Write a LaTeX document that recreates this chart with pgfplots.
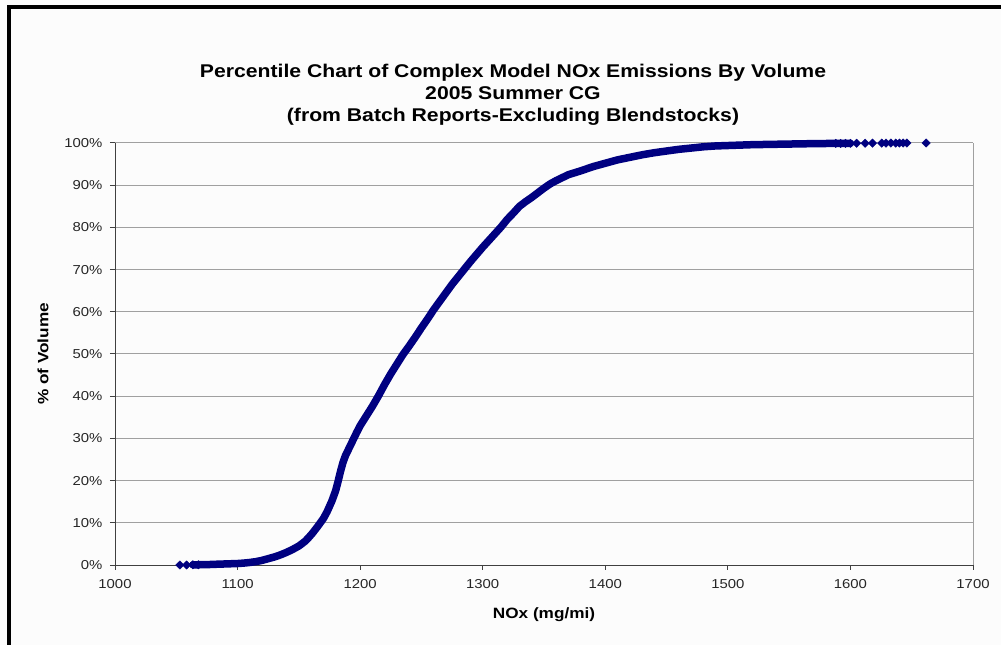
\documentclass[border=0pt]{standalone}
\usepackage{fontspec}
\setmainfont{Liberation Sans}[FakeStretch=1.15]
\usepackage{pgfplots}
\pgfplotsset{compat=1.18}
\definecolor{navy}{RGB}{0,0,128}
\definecolor{gridgray}{RGB}{160,160,160}
\definecolor{axisdark}{RGB}{64,64,64}
\definecolor{bg}{RGB}{252,252,252}
\begin{document}
\begin{tikzpicture}
\fill[bg] (0bp,0bp) rectangle (1001bp,645bp);
\path[use as bounding box] (0bp,0bp) rectangle (1001bp,645bp);
\fill[black] (7bp,0bp) rectangle (11bp,640bp);
\fill[black] (7bp,636bp) rectangle (1001bp,640bp);
\node[align=center, font=\fontsize{18.5}{22}\selectfont\bfseries] at (513bp,550bp)
 {Percentile Chart of Complex Model NOx Emissions By Volume\\2005 Summer CG\\(from Batch Reports-Excluding Blendstocks)};
\begin{axis}[
  at={(115bp,80bp)}, anchor=south west,
  scale only axis, width=858bp, height=422bp,
  xmin=1000, xmax=1700, ymin=0, ymax=100,
  axis x line=bottom, axis y line=left,
  axis line style={axisdark, line width=1bp, -},
  xtick={1000,1100,...,1700}, ytick={0,10,...,100},
  yticklabel={\pgfmathprintnumber{\tick}\%},
  ymajorgrids, major grid style={gridgray, line width=1bp},
  tick align=outside, major tick length=5bp,
  tick style={axisdark, line width=1bp},
  /pgf/number format/assume math mode=true,
  /pgf/number format/set thousands separator={},
  scaled x ticks=false,
  ticklabel style={font=\fontsize{13}{14}\selectfont, text=black!85},
  xticklabel style={yshift=-6bp},
  yticklabel style={xshift=-4bp},
  xlabel={NOx (mg/mi)}, ylabel={\% of Volume},
  every axis x label/.style={at={(axis description cs:0.5,0)}, yshift=-50bp, anchor=center, font=\fontsize{15}{17}\selectfont\bfseries},
  every axis y label/.style={at={(axis description cs:0,0.5)}, xshift=-72bp, rotate=90, anchor=center, font=\fontsize{15}{17}\selectfont\bfseries},
  clip=false,
]
\draw[gridgray, line width=1bp] (rel axis cs:1,0) -- (rel axis cs:1,1);
\addplot[navy, line width=7.5bp, line join=round, line cap=round] coordinates {
(1063.5,0.05) (1068,0.05) (1072,0.1) (1076,0.1) (1080,0.15) (1085,0.2) (1090,0.25)
(1095,0.3) (1100,0.35) (1105,0.45) (1110,0.6) (1115,0.8) (1120,1.1) (1125,1.5)
(1130,1.9) (1135,2.4) (1140,3.0) (1145,3.7) (1150,4.5) (1155,5.6) (1158,6.5)
(1161,7.5) (1165,9.0) (1170,11.0) (1173,12.6) (1177,15.2) (1180,17.6) (1182,19.8)
(1184,22.2) (1186,24.3) (1188,25.9) (1190,27.1) (1192,28.3) (1197,31.3) (1200,33.0)
(1205,35.3) (1210,37.6) (1215,40.1) (1220,42.8) (1225,45.3) (1230,47.6) (1235,49.9)
(1240,51.9) (1245,54.0) (1250,56.2) (1255,58.3) (1260,60.5) (1265,62.5) (1270,64.5)
(1275,66.5) (1280,68.3) (1285,70.1) (1290,71.9) (1295,73.6) (1300,75.3) (1305,76.9)
(1310,78.5) (1315,80.1) (1320,81.9) (1325,83.4) (1330,85) (1335,86.1) (1340,87.1)
(1345,88.2) (1350,89.3) (1355,90.3) (1360,91.1) (1370,92.5) (1380,93.4) (1390,94.4)
(1400,95.2) (1410,96.0) (1420,96.6) (1430,97.2) (1440,97.7) (1450,98.1) (1460,98.5)
(1470,98.8) (1480,99.1) (1490,99.3) (1500,99.4) (1510,99.5) (1520,99.6) (1530,99.65)
(1540,99.7) (1550,99.75) (1560,99.8) (1570,99.85) (1580,99.88) (1590,99.9) (1600,99.92)
};
\addplot[navy, only marks, mark=diamond*, mark size=4.2bp, mark options={xscale=1.35}] coordinates {
(1053,0) (1058.5,0) (1063.5,0.05) (1068,0.05)
(1588,99.9) (1592,99.9) (1596,99.91) (1600,99.92) (1605,99.94) (1612,99.95) (1618,99.96)
(1625.5,99.97) (1629,99.97) (1633,99.98) (1637,99.98) (1640,99.99) (1643,99.99)
(1646,99.99) (1661.7,100)
};
\end{axis}
\end{tikzpicture}
\end{document}
